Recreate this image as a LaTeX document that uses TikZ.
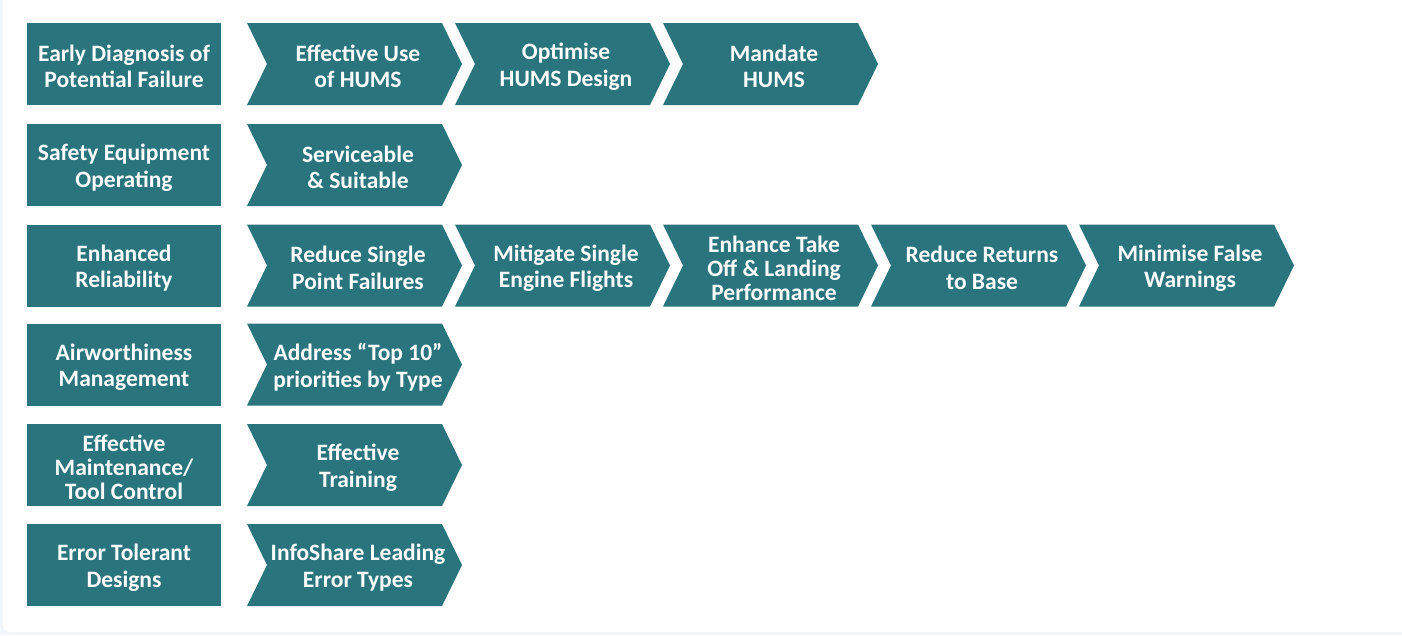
\documentclass[tikz,border=0pt]{standalone}
\usepackage{fontspec}
\setmainfont{Carlito}
\usetikzlibrary{shapes.symbols,positioning}

\definecolor{tealbox}{RGB}{42,116,126}
\definecolor{pagebg}{RGB}{240,246,251}

\begin{document}
\begin{tikzpicture}[x=1pt,y=-1pt,
    every node/.style={font=\bfseries\fontsize{23.5}{26.5}\selectfont,text=white,align=center,inner sep=0pt},
    tight/.style={font=\bfseries\fontsize{23.5}{24}\selectfont},
    goal/.style={rectangle,fill=tealbox,minimum width=194pt,minimum height=82pt},
    chev/.style={signal,signal from=west,signal to=east,signal pointer angle=128,fill=tealbox,minimum width=215pt,minimum height=82pt},
    say/.style={label={[yshift=-2.5pt]center:{#1}}},
    sayc/.style={label={[xshift=3.5pt,yshift=-2.5pt]center:{#1}}},
    sayt/.style={label={[tight,xshift=3.5pt,yshift=-2.5pt]center:{#1}}}]
    \useasboundingbox (0,0) rectangle (1402,635);
    \fill[pagebg] (0,0) rectangle (1402,635);
    \fill[white,rounded corners=8pt] (2.5,-12) rectangle (1415,632);

    % left column
    \node [goal,say={Early Diagnosis of\\Potential Failure}] (g1) at (124,64) {};
    \node [goal,say={Safety Equipment\\Operating}] (g2) at (124,165) {};
    \node [goal,say={Enhanced\\Reliability}] (g3) at (124,265.5) {};
    \node [goal,say={Airworthiness\\Management}] (g4) at (124,364.5) {};
    \node [goal,label={[tight,yshift=-2.5pt]center:{Effective\\Maintenance/\\Tool Control}}] (g5) at (124,465) {};
    \node [goal,say={Error Tolerant\\Designs}] (g6) at (124,565) {};

    % row 1
    \node [chev,sayc={Effective Use\\of HUMS}] (a1) at (354.5,64) {};
    \node [chev,sayc={Optimise\\HUMS Design}] (a2) at (562.5,64) {};
    \node [chev,sayc={Mandate\\HUMS}] (a3) at (770.5,64) {};

    % row 2
    \node [chev,sayc={Serviceable\\\& Suitable}] (b1) at (354.5,165) {};

    % row 3
    \node [chev,sayc={Reduce Single\\Point Failures}] (c1) at (354.5,265.5) {};
    \node [chev,sayc={Mitigate Single\\Engine Flights}] (c2) at (562.5,265.5) {};
    \node [chev,sayt={Enhance Take\\Off \& Landing\\Performance}] (c3) at (770.5,265.5) {};
    \node [chev,sayc={Reduce Returns\\to Base}] (c4) at (978.5,265.5) {};
    \node [chev,sayc={Minimise False\\Warnings}] (c5) at (1186.5,265.5) {};

    % rows 4-6
    \node [chev,sayc={Address “Top 10”\\priorities by Type}] (d1) at (354.5,364.5) {};
    \node [chev,sayc={Effective\\Training}] (e1) at (354.5,465) {};
    \node [chev,sayc={InfoShare Leading\\Error Types}] (f1) at (354.5,565) {};
\end{tikzpicture}
\end{document}
